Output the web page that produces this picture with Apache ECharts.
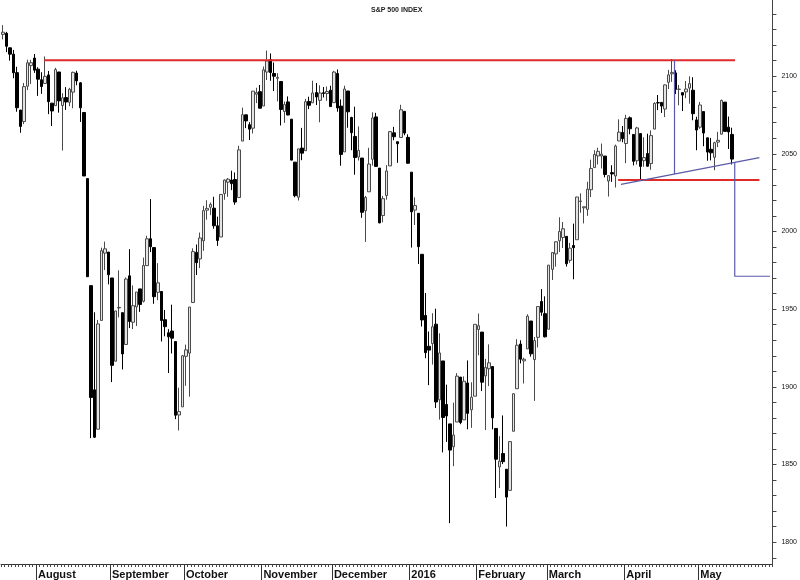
<!DOCTYPE html>
<html>
<head>
<meta charset="utf-8">
<script src="https://cdn.jsdelivr.net/npm/echarts@6/dist/echarts.min.js"></script>
<style>html,body{margin:0;padding:0;background:#fff;}#chart{width:800px;height:580px;}</style>
</head>
<body>
<div id="chart"></div>
<script>
const chartTitle = 'S&P 500 INDEX';
const dates = [
'2015-07-20','2015-07-21','2015-07-22','2015-07-23','2015-07-24','2015-07-27','2015-07-28','2015-07-29','2015-07-30','2015-07-31',
'2015-08-03','2015-08-04','2015-08-05','2015-08-06','2015-08-07','2015-08-10','2015-08-11','2015-08-12','2015-08-13','2015-08-14',
'2015-08-17','2015-08-18','2015-08-19','2015-08-20','2015-08-21','2015-08-24','2015-08-25','2015-08-26','2015-08-27','2015-08-28','2015-08-31',
'2015-09-01','2015-09-02','2015-09-03','2015-09-04','2015-09-08','2015-09-09','2015-09-10','2015-09-11','2015-09-14','2015-09-15',
'2015-09-16','2015-09-17','2015-09-18','2015-09-21','2015-09-22','2015-09-23','2015-09-24','2015-09-25','2015-09-28','2015-09-29','2015-09-30',
'2015-10-01','2015-10-02','2015-10-05','2015-10-06','2015-10-07','2015-10-08','2015-10-09','2015-10-12','2015-10-13','2015-10-14','2015-10-15',
'2015-10-16','2015-10-19','2015-10-20','2015-10-21','2015-10-22','2015-10-23','2015-10-26','2015-10-27','2015-10-28','2015-10-29','2015-10-30',
'2015-11-02','2015-11-03','2015-11-04','2015-11-05','2015-11-06','2015-11-09','2015-11-10','2015-11-11','2015-11-12','2015-11-13',
'2015-11-16','2015-11-17','2015-11-18','2015-11-19','2015-11-20','2015-11-23','2015-11-24','2015-11-25','2015-11-27','2015-11-30',
'2015-12-01','2015-12-02','2015-12-03','2015-12-04','2015-12-07','2015-12-08','2015-12-09','2015-12-10','2015-12-11','2015-12-14','2015-12-15',
'2015-12-16','2015-12-17','2015-12-18','2015-12-21','2015-12-22','2015-12-23','2015-12-24','2015-12-28','2015-12-29','2015-12-30','2015-12-31',
'2016-01-04','2016-01-05','2016-01-06','2016-01-07','2016-01-08','2016-01-11','2016-01-12','2016-01-13','2016-01-14','2016-01-15',
'2016-01-19','2016-01-20','2016-01-21','2016-01-22','2016-01-25','2016-01-26','2016-01-27','2016-01-28','2016-01-29',
'2016-02-01','2016-02-02','2016-02-03','2016-02-04','2016-02-05','2016-02-08','2016-02-09','2016-02-10','2016-02-11','2016-02-12',
'2016-02-16','2016-02-17','2016-02-18','2016-02-19','2016-02-22','2016-02-23','2016-02-24','2016-02-25','2016-02-26','2016-02-29',
'2016-03-01','2016-03-02','2016-03-03','2016-03-04','2016-03-07','2016-03-08','2016-03-09','2016-03-10','2016-03-11','2016-03-14','2016-03-15',
'2016-03-16','2016-03-17','2016-03-18','2016-03-21','2016-03-22','2016-03-23','2016-03-24','2016-03-28','2016-03-29','2016-03-30','2016-03-31',
'2016-04-01','2016-04-04','2016-04-05','2016-04-06','2016-04-07','2016-04-08','2016-04-11','2016-04-12','2016-04-13','2016-04-14','2016-04-15',
'2016-04-18','2016-04-19','2016-04-20','2016-04-21','2016-04-22','2016-04-25','2016-04-26','2016-04-27','2016-04-28','2016-04-29',
'2016-05-02','2016-05-03','2016-05-04','2016-05-05','2016-05-06','2016-05-09','2016-05-10','2016-05-11','2016-05-12','2016-05-13'
];
const futureDates = ['2016-05-16','2016-05-17','2016-05-18','2016-05-19','2016-05-20','2016-05-23','2016-05-24','2016-05-25','2016-05-26','2016-05-27','2016-05-31'];
const opens = [
2126.85,2127.55,2118.21,2114.16,2102.24,2078.19,2070.75,2093.52,2106.78,2111.60,
2104.49,2097.68,2095.27,2100.75,2082.61,2080.98,2102.66,2081.10,2086.19,2083.15,
2089.70,2101.99,2095.69,2076.61,2034.08,1965.15,1898.08,1872.75,1942.77,1986.06,1986.73,
1970.09,1916.52,1950.79,1947.76,1927.30,1971.45,1941.59,1951.45,1963.06,1955.10,
1978.02,1995.33,1989.66,1960.84,1961.39,1943.24,1934.81,1935.93,1929.18,1881.90,1887.14,
1919.65,1921.77,1954.33,1986.63,1982.34,1994.01,2013.73,2015.65,2015.00,2003.66,1996.47,
2024.37,2031.73,2033.13,2033.47,2021.88,2058.19,2075.08,2068.75,2066.48,2088.35,2090.00,
2080.76,2102.63,2110.60,2101.68,2098.60,2096.56,2077.19,2083.41,2072.29,2044.64,
2022.08,2053.67,2051.99,2083.70,2082.82,2089.41,2084.42,2089.30,2088.82,2090.95,
2082.93,2101.71,2080.71,2051.24,2090.42,2073.39,2061.17,2047.93,2047.27,2013.37,2025.55,
2046.50,2073.76,2040.81,2010.27,2023.15,2042.20,2063.52,2057.77,2060.54,2077.34,2060.59,
2038.20,2013.78,2011.71,1985.32,1945.97,1926.12,1927.83,1940.34,1891.68,1916.68,
1888.66,1876.18,1861.46,1877.40,1906.28,1878.79,1902.52,1885.22,1894.00,
1936.94,1935.26,1907.07,1911.67,1913.07,1873.25,1848.46,1857.10,1847.00,1833.40,
1871.44,1898.80,1927.57,1916.74,1924.44,1942.38,1917.56,1931.87,1954.95,1947.13,
1937.09,1975.65,1985.60,1994.01,1996.11,1996.88,1981.44,1990.97,1994.71,2019.27,2015.27,
2014.24,2026.90,2041.16,2048.64,2048.64,2048.55,2032.48,2037.89,2035.75,2058.27,2063.77,
2056.62,2073.19,2062.50,2045.56,2063.01,2045.54,2050.23,2043.72,2065.92,2082.89,2083.10,
2078.83,2096.05,2101.52,2102.09,2091.49,2089.37,2089.84,2092.33,2090.93,2071.82,
2067.17,2077.18,2060.30,2052.95,2047.77,2057.55,2062.63,2083.29,2067.17,2062.50
];
const highs = [
2132.82,2128.49,2118.51,2116.87,2106.01,2078.19,2095.60,2110.60,2110.48,2114.24,
2105.70,2102.51,2112.66,2103.32,2082.61,2105.35,2102.66,2089.06,2092.93,2092.45,
2102.87,2103.47,2096.17,2076.61,2034.08,1965.15,1948.04,1943.09,1989.60,1993.48,1986.73,
1970.09,1948.91,1975.01,1947.76,1970.42,1988.63,1965.29,1961.05,1963.06,1983.19,
1997.26,2020.86,1989.66,1979.64,1961.39,1949.52,1937.17,1952.89,1929.18,1899.48,1920.53,
1927.21,1951.36,1989.17,1991.62,1999.31,2016.50,2020.13,2018.66,2022.34,2009.56,2024.15,
2033.54,2034.45,2039.12,2037.97,2055.20,2079.74,2075.14,2070.37,2090.35,2092.52,2094.32,
2106.20,2116.48,2114.59,2108.78,2101.91,2096.56,2083.67,2086.94,2072.29,2044.64,
2053.22,2066.69,2085.31,2086.74,2097.06,2095.61,2094.12,2093.00,2093.29,2093.81,
2103.37,2104.27,2085.00,2093.84,2090.42,2073.85,2080.33,2067.65,2047.27,2022.92,2053.87,
2076.72,2076.37,2040.81,2022.90,2042.74,2064.73,2067.36,2057.77,2081.56,2077.34,2062.54,
2038.20,2021.94,2011.71,1985.32,1960.40,1935.65,1947.38,1950.33,1934.47,1916.68,
1901.44,1876.18,1889.85,1908.85,1906.28,1906.73,1916.99,1902.96,1940.24,
1947.20,1935.26,1918.01,1927.35,1913.07,1873.25,1868.25,1881.60,1847.00,1864.78,
1895.77,1930.68,1930.00,1918.78,1946.70,1942.38,1932.08,1951.83,1962.96,1958.27,
1978.35,1986.51,1993.69,2009.13,2006.12,1996.88,1992.69,2005.08,2022.37,2024.57,2015.94,
2032.02,2046.24,2052.36,2053.91,2056.60,2048.55,2036.04,2042.67,2055.91,2072.21,2067.92,
2075.07,2074.02,2062.50,2067.33,2063.01,2060.63,2062.93,2065.05,2083.18,2087.84,2083.22,
2094.66,2104.05,2111.05,2103.78,2094.32,2089.37,2096.87,2099.89,2099.30,2073.85,
2083.42,2077.18,2060.30,2060.23,2057.72,2064.15,2084.87,2083.29,2073.99,2066.79
];
const lows = [
2123.66,2115.40,2110.00,2098.63,2077.09,2063.52,2069.09,2091.00,2094.97,2102.07,
2087.31,2088.60,2095.27,2075.53,2067.91,2080.98,2076.49,2052.09,2078.26,2080.61,
2079.30,2094.14,2070.53,2035.73,1970.89,1867.01,1867.08,1872.75,1942.77,1975.19,1965.98,
1903.07,1916.52,1944.72,1911.21,1927.30,1937.88,1937.19,1939.19,1948.27,1954.30,
1977.93,1986.73,1953.45,1955.80,1929.22,1932.57,1908.92,1921.50,1879.21,1871.91,1887.14,
1900.70,1893.70,1954.33,1971.99,1976.44,1987.53,2007.61,2010.55,2001.78,1990.73,1996.47,
2020.46,2022.31,2026.61,2017.22,2021.88,2058.19,2066.53,2058.84,2063.11,2082.63,2079.34,
2080.76,2097.51,2096.98,2090.41,2083.74,2068.24,2069.91,2074.85,2045.66,2022.02,
2019.94,2045.90,2051.99,2078.76,2082.82,2081.39,2070.29,2086.30,2084.13,2080.41,
2082.93,2077.11,2042.35,2051.24,2066.78,2052.32,2036.53,2045.67,2008.80,1993.26,2025.55,
2042.43,2041.66,2005.33,2005.93,2020.49,2042.20,2058.73,2044.20,2060.54,2061.97,2043.62,
1989.68,2004.17,1979.05,1938.83,1918.46,1901.10,1914.35,1886.41,1878.93,1857.83,
1864.60,1812.29,1848.98,1877.40,1875.97,1878.79,1872.70,1873.65,1894.00,
1920.30,1897.29,1872.23,1900.52,1872.65,1828.46,1834.94,1850.32,1810.10,1833.40,
1871.44,1898.80,1915.09,1902.17,1924.44,1919.44,1891.00,1925.41,1945.78,1931.81,
1937.09,1968.80,1977.37,1986.77,1989.38,1977.43,1979.84,1969.25,1994.71,2012.05,2005.23,
2010.04,2022.16,2041.16,2043.14,2040.57,2034.86,2022.49,2031.96,2028.31,2058.27,2057.46,
2043.98,2062.57,2042.56,2043.09,2033.80,2041.69,2041.88,2039.74,2065.92,2078.13,2076.31,
2073.65,2091.68,2096.32,2088.52,2081.20,2077.52,2085.80,2082.31,2071.62,2052.28,
2066.11,2054.89,2045.55,2045.77,2039.45,2054.31,2062.63,2064.46,2053.13,2043.13
];
const closes = [
2128.28,2119.21,2114.15,2102.15,2079.65,2067.64,2093.25,2108.57,2108.63,2103.84,
2098.04,2093.32,2099.84,2083.56,2077.57,2104.18,2084.07,2086.05,2083.39,2091.54,
2102.44,2096.92,2079.61,2035.73,1970.89,1893.21,1867.61,1940.51,1987.66,1988.87,1972.18,
1913.85,1948.86,1951.13,1921.22,1969.41,1942.04,1952.29,1961.05,1953.03,1978.09,
1995.31,1990.20,1958.03,1966.97,1942.74,1938.76,1932.24,1931.34,1881.77,1884.09,1920.03,
1923.82,1951.36,1987.05,1979.92,1995.83,2013.43,2014.89,2017.46,2003.69,1994.24,2023.86,
2033.11,2033.66,2030.77,2018.94,2052.51,2075.15,2071.18,2065.89,2090.35,2089.41,2079.36,
2104.05,2109.79,2102.31,2099.93,2099.20,2078.58,2081.72,2075.00,2045.97,2023.04,
2053.19,2050.44,2083.58,2081.24,2089.17,2086.59,2089.14,2088.87,2090.11,2080.41,
2102.63,2079.51,2049.62,2091.69,2077.07,2063.59,2047.62,2052.23,2012.37,2021.94,2043.41,
2073.07,2041.89,2005.55,2021.15,2038.97,2064.29,2060.99,2056.50,2078.36,2063.36,2043.94,
2012.66,2016.71,1990.26,1943.09,1922.03,1923.67,1938.68,1890.28,1921.84,1880.33,
1881.33,1859.33,1868.99,1906.90,1877.08,1903.63,1882.95,1893.36,1940.24,
1939.38,1903.03,1912.53,1915.45,1880.05,1853.44,1852.21,1851.86,1829.08,1864.78,
1895.58,1926.82,1917.83,1917.78,1945.50,1921.27,1929.80,1951.70,1948.05,1932.23,
1978.35,1986.45,1993.40,1999.99,2001.76,1979.26,1989.26,1989.57,2022.19,2019.64,2015.93,
2027.22,2040.59,2049.58,2051.60,2049.80,2036.71,2035.94,2037.05,2055.01,2063.95,2059.74,
2072.78,2066.13,2045.17,2066.66,2041.91,2047.60,2041.99,2061.72,2082.42,2082.78,2080.73,
2094.34,2100.80,2102.40,2091.48,2091.58,2087.79,2091.70,2095.15,2075.81,2065.30,
2081.43,2063.37,2051.12,2050.63,2057.14,2058.69,2084.39,2064.46,2064.11,2046.61
];
const monthStartDates = ['2015-08-03','2015-09-01','2015-10-01','2015-11-02','2015-12-01','2016-01-04','2016-02-01','2016-03-01','2016-04-01','2016-05-02'];
const monthLabels = ['August','September','October','November','December','2016','February','March','April','May'];
const yTickValues = [1790,1800,1810,1820,1830,1840,1850,1860,1870,1880,1890,1900,1910,1920,1930,1940,1950,1960,1970,1980,1990,2000,2010,2020,2030,2040,2050,2060,2070,2080,2090,2100,2110,2120,2130,2140];
const yLabelValues = [1800,1850,1900,1950,2000,2050,2100];
// annotation lines: [trading-day index, price]
const resistanceLine = [[11.8, 2110.2], [207.9, 2110.2]];
const supportLine = [[174.7, 2033.1], [214.8, 2033.1]];
const trendLine = [[175.5, 2030.3], [214.8, 2047.6]];
const heightLine = [[190.7, 2110.2], [190.7, 2037.0]];
const targetLine = [[207.8, 2044.5], [207.8, 1971.2], [217.8, 1971.2]];

const allCats = dates.concat(futureDates);
const candleData = dates.map((d, i) => [opens[i], closes[i], lows[i], highs[i]]);
const monthIdx = monthStartDates.map(d => allCats.indexOf(d));
const monthTickPos = monthIdx.map(i => i - 0.5);

const chart = echarts.init(document.getElementById('chart'), null, {renderer: 'canvas'});
const lineSeries = (data, color, width, z) => ({
  type: 'line', xAxisIndex: 1, yAxisIndex: 0, data: data, showSymbol: false, symbol: 'none',
  lineStyle: {color: color, width: width}, z: z, silent: true, animation: false
});
const font = 'Liberation Sans, Arial, sans-serif';
chart.setOption({
  animation: false,
  backgroundColor: '#ffffff',
  title: {
    text: chartTitle, left: 366, top: 2,
    textStyle: {fontSize: 7, fontWeight: 'bold', color: '#222', fontFamily: font}
  },
  grid: {left: 1, right: 24, top: 0, bottom: 16, containLabel: false},
  xAxis: [
    {
      type: 'category', data: allCats, boundaryGap: true, position: 'bottom',
      axisLine: {show: true, onZero: false, lineStyle: {color: '#333', width: 1}},
      axisTick: {show: true, interval: 0, length: 3, lineStyle: {color: '#444', width: 1}},
      axisLabel: {show: false}, splitLine: {show: false}
    },
    {
      type: 'value', min: -0.5, max: 218.5, position: 'bottom',
      axisLine: {show: false, onZero: false},
      axisTick: {show: true, length: 16, customValues: monthTickPos, lineStyle: {color: '#333', width: 1}},
      axisLabel: {
        show: true, customValues: monthIdx, align: 'left', margin: 5,
        fontSize: 11, fontWeight: 'bold', color: '#111', fontFamily: font,
        formatter: v => { const k = monthIdx.indexOf(Math.round(v)); return k >= 0 ? monthLabels[k] : ''; }
      },
      splitLine: {show: false}
    }
  ],
  yAxis: [{
    type: 'value', position: 'right', min: 1786, max: 2149,
    axisLine: {show: true, onZero: false, lineStyle: {color: '#444', width: 1}},
    axisTick: {show: true, length: 4, customValues: yTickValues, lineStyle: {color: '#444'}},
    axisLabel: {show: true, customValues: yLabelValues, fontSize: 7, color: '#111', margin: 9,
      fontFamily: font, formatter: v => String(v)},
    splitLine: {show: false}
  }],
  series: [
    {
      type: 'candlestick', xAxisIndex: 0, yAxisIndex: 0, data: candleData, barWidth: 3,
      itemStyle: {color: '#e4e4e4', color0: '#000000', borderColor: '#4a4a4a', borderColor0: '#000000', borderWidth: 1},
      z: 2
    },
    lineSeries(resistanceLine, '#e02a2a', 2, 5),
    lineSeries(supportLine, '#e02a2a', 2, 5),
    lineSeries(trendLine, '#5a5aa8', 1.2, 6),
    lineSeries(heightLine, '#5a5aa8', 1.2, 6),
    lineSeries(targetLine, '#5a5aa8', 1.2, 6)
  ]
});
</script>
</body>
</html>
